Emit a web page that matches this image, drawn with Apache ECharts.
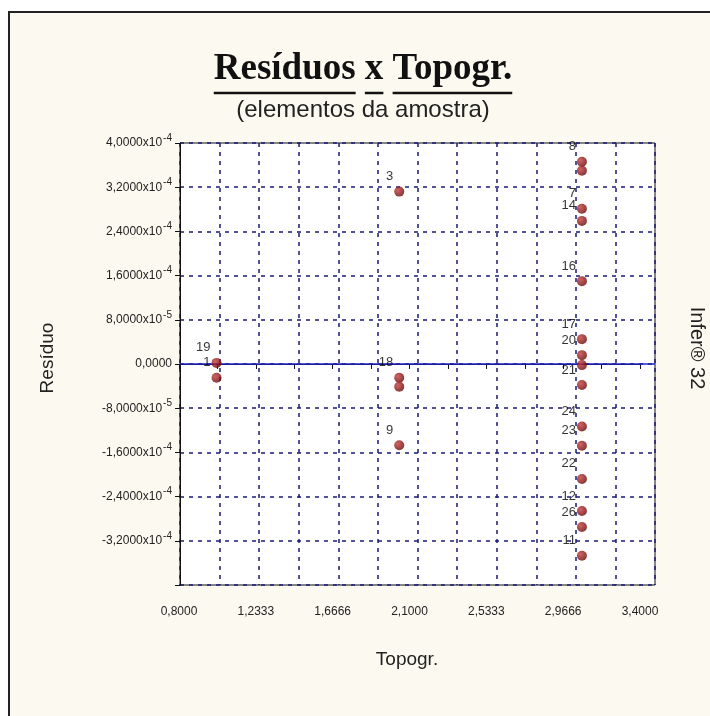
<!DOCTYPE html>
<html>
<head>
<meta charset="utf-8">
<script src="https://cdn.jsdelivr.net/npm/echarts@6/dist/echarts.min.js"></script>
<style>
  html, body { margin: 0; padding: 0; background: #fff; }
  #chart { width: 710px; height: 716px; }
</style>
</head>
<body>
<div id="chart"></div>
<script>
  // valores (Resíduos x Topogr.)
  const topogr = [1, 1, 2, 2, 2, 2, 3, 3, 3, 3, 3, 3, 3, 3, 3, 3, 3, 3, 3, 3, 3];
  const residuo = [
    0.02e-4, -0.25e-4,
    3.12e-4, -0.25e-4, -0.41e-4, -1.47e-4,
    3.66e-4, 3.50e-4, 2.81e-4, 2.59e-4, 1.50e-4, 0.45e-4, 0.16e-4, -0.02e-4,
    -0.38e-4, -1.13e-4, -1.48e-4, -2.08e-4, -2.66e-4, -2.95e-4, -3.47e-4
  ];
  const rotulos = [
    '19', '1',
    '3', '18', '', '9',
    '8', '', '7', '14', '16', '17', '20', '', '21', '24', '23', '22', '12', '26', '11'
  ];
  const xTickLabels = ['0,8000', '1,2333', '1,6666', '2,1000', '2,5333', '2,9666', '3,4000'];
  const yTickMantissa = ['4,0000', '3,2000', '2,4000', '1,6000', '8,0000', '0,0000',
    '-8,0000', '-1,6000', '-2,4000', '-3,2000', ''];
  const yTickExp = ['-4', '-4', '-4', '-4', '-5', '', '-5', '-4', '-4', '-4', ''];

  const chart = echarts.init(document.getElementById('chart'));

  // sublinhado do título, medido palavra a palavra
  const titleFont = 'bold 37px "Liberation Serif"';
  const ctx = document.createElement('canvas').getContext('2d');
  ctx.font = titleFont;
  const title = 'Resíduos x Topogr.';
  const tw = ctx.measureText(title).width;
  const tx0 = 363 - tw / 2;
  const underlines = [];
  let pos = 0;
  title.split(' ').forEach(function (w) {
    const start = ctx.measureText(title.slice(0, pos)).width;
    const len = ctx.measureText(w).width;
    underlines.push({
      type: 'line',
      shape: { x1: tx0 + start, y1: 93, x2: tx0 + start + len, y2: 93 },
      style: { stroke: '#111', lineWidth: 2.5 }
    });
    pos += w.length + 1;
  });

  const points = topogr.map(function (x, i) { return [x, residuo[i]]; });
  const gridColor = '#1a1a78';

  const option = {
    animation: false,
    graphic: [
      {
        type: 'rect', z: -100,
        shape: { x: 9, y: 12, width: 740, height: 740 },
        style: { fill: '#fcfaf0', stroke: '#222', lineWidth: 2 }
      },
      {
        type: 'text', x: tx0, y: 69,
        style: { text: title, font: titleFont, fill: '#111', textVerticalAlign: 'middle' }
      }
    ].concat(underlines, [
      {
        type: 'text', x: 363, y: 110,
        style: { text: '(elementos da amostra)', font: '24px "Liberation Sans"', fill: '#222',
          textAlign: 'center', textVerticalAlign: 'middle' }
      },
      {
        type: 'text', x: 48, y: 358, rotation: Math.PI / 2,
        style: { text: 'Resíduo', font: '19px "Liberation Sans"', fill: '#222',
          textAlign: 'center', textVerticalAlign: 'middle' }
      },
      {
        type: 'text', x: 407, y: 660,
        style: { text: 'Topogr.', font: '19px "Liberation Sans"', fill: '#222',
          textAlign: 'center', textVerticalAlign: 'middle' }
      },
      {
        type: 'text', x: 697, y: 348, rotation: -Math.PI / 2,
        style: { text: 'Infer® 32', font: '20px "Liberation Sans"', fill: '#222',
          textAlign: 'center', textVerticalAlign: 'middle' }
      }
    ]),
    grid: [
      { left: 180, top: 143, width: 475, height: 442, show: true,
        backgroundColor: '#fff', borderColor: '#111', borderWidth: 1 },
      { left: 179, top: 143, width: 461, height: 442, show: false }
    ],
    xAxis: [
      {
        gridIndex: 0, type: 'value', min: 0.8, max: 3.4, interval: 2.6 / 12,
        axisLine: { show: false }, axisTick: { show: false }, axisLabel: { show: false },
        splitLine: { show: true, lineStyle: { color: gridColor, type: [4, 5], width: 1.5 } }
      },
      {
        gridIndex: 1, type: 'value', min: 0.8, max: 3.4, interval: 2.6 / 12,
        axisLine: { show: true, lineStyle: { color: '#111', width: 1 } },
        axisTick: { show: true, length: 5, lineStyle: { color: '#111' } },
        splitLine: { show: false },
        axisLabel: {
          show: true, interval: 0, margin: 21, fontSize: 12, color: '#222',
          fontFamily: 'Liberation Sans',
          formatter: function (v) {
            const k = (v - 0.8) / (2.6 / 6);
            const r = Math.round(k);
            return Math.abs(k - r) < 0.01 ? xTickLabels[r] : '';
          }
        }
      }
    ],
    yAxis: [
      {
        gridIndex: 0, type: 'value', min: -4e-4, max: 4e-4, interval: 8e-5,
        axisLine: { show: true, lineStyle: { color: '#111', width: 1 } },
        axisTick: { show: true, length: 5, lineStyle: { color: '#111' } },
        splitLine: { show: true, lineStyle: { color: gridColor, type: [4, 5], width: 1.5 } },
        axisLabel: {
          margin: 8, fontSize: 12, color: '#222', fontFamily: 'Liberation Sans',
          formatter: function (v) {
            const k = Math.round((4e-4 - v) / 8e-5);
            const m = yTickMantissa[k];
            if (!m) return '';
            return yTickExp[k] ? m + '{x|x10}{e|' + yTickExp[k] + '}' : m;
          },
          rich: {
            x: { fontSize: 12, color: '#222', fontFamily: 'Liberation Sans' },
            e: { fontSize: 10, color: '#222', fontFamily: 'Liberation Sans', padding: [0, 0, 10, 1] }
          }
        }
      },
      { gridIndex: 1, type: 'value', show: false, min: -4e-4, max: 4e-4 }
    ],
    series: [
      {
        type: 'scatter', xAxisIndex: 0, yAxisIndex: 0,
        data: points,
        symbolSize: 10,
        itemStyle: {
          color: {
            type: 'radial', x: 0.35, y: 0.35, r: 0.7,
            colorStops: [{ offset: 0, color: '#c83a3a' }, { offset: 1, color: '#650606' }]
          }
        },
        label: {
          show: true, position: 'left', distance: 1, offset: [0, -15],
          fontSize: 13, color: '#000', fontFamily: 'Liberation Sans',
          formatter: function (p) { return rotulos[p.dataIndex]; }
        },
        markLine: {
          silent: true, symbol: 'none', label: { show: false },
          lineStyle: { color: '#2020c0', type: 'solid', width: 1.5 },
          data: [{ yAxis: 0 }]
        },
        z: 5
      }
    ]
  };

  chart.setOption(option);
</script>
</body>
</html>
